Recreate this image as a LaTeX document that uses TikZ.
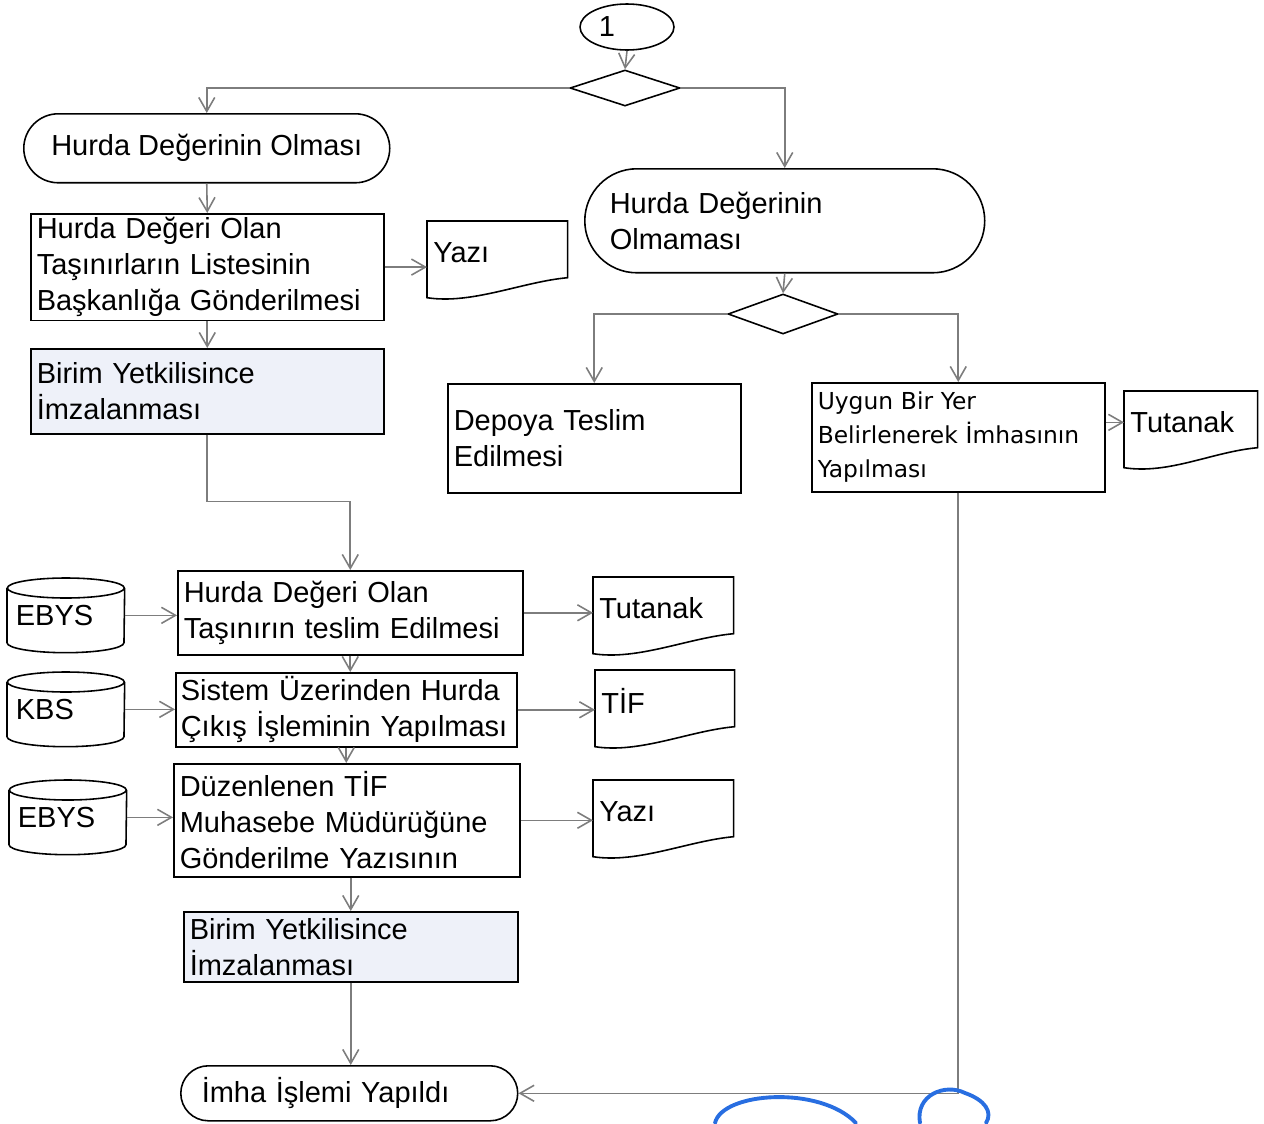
\documentclass[tikz,border=0pt]{standalone}
\usepackage{fontspec}
\setmainfont{Liberation Sans}
\newfontfamily\verdfont{DejaVu Sans}
\usetikzlibrary{arrows.meta,shapes.geometric}
\definecolor{shadefill}{RGB}{238,241,249}
\definecolor{conn}{RGB}{125,125,125}
\definecolor{pen}{RGB}{40,110,225}
% document outline (wavy bottom) around a named node
\newcommand\docout[1]{%
  \draw[outl] (#1.north west) -- ([yshift=-0.28cm]#1.south west)
    .. controls ([xshift=0.9cm,yshift=-0.42cm]#1.south west) and ([xshift=-0.9cm,yshift=0.04cm]#1.south east)
    .. ([yshift=0.12cm]#1.south east) -- (#1.north east) -- cycle;}
% cylinder outline around a named node
\newcommand\cylout[1]{%
  \draw[outl] ([yshift=-0.2cm]#1.north west) -- ([yshift=0.2cm]#1.south west)
    arc[start angle=180,end angle=360,x radius=1.17cm,y radius=0.2cm]
    -- ([yshift=-0.2cm]#1.north east);
  \draw[outl] ([yshift=-0.2cm]#1.north) ellipse [x radius=1.17cm,y radius=0.2cm];}
\begin{document}
\begin{tikzpicture}[x=0.02cm,y=-0.02cm,
  every node/.style={font=\fontsize{16.5}{20.5}\selectfont},
  outl/.style={line width=0.9pt,draw=black},
  box/.style={draw,outl,rectangle,anchor=north west,inner xsep=0.12cm,inner ysep=2pt,align=left},
  shadedbox/.style={box,fill=shadefill},
  term/.style={draw,outl,rectangle,anchor=north west,align=left,inner ysep=0pt},
  docnode/.style={anchor=north west,inner xsep=0.12cm,inner ysep=0pt,align=left,minimum height=1.24cm},
  cylnode/.style={anchor=north west,inner xsep=0.17cm,inner ysep=0pt,text width=2.0cm,align=left,minimum height=1.48cm},
  decision/.style={draw,outl,diamond,inner sep=0pt,minimum width=2.2cm},
  arr/.style={draw=conn,line width=0.9pt,-{Straight Barb[length=0.28cm,width=0.32cm]}},
  penline/.style={draw=pen,line width=2.2pt,line cap=round}]
\useasboundingbox (0,0) rectangle (1264,1123);

% start
\node[draw,outl,ellipse,minimum width=1.88cm,minimum height=0.92cm,inner sep=0pt] (c1) at (627,27) {1\hspace*{0.8cm}};
\node[decision,minimum height=0.72cm] (d1) at (625,88) {};

% left branch
\node[term,rounded corners=0.69cm,minimum width=7.32cm,minimum height=1.38cm,align=center] (n1) at (23,113) {Hurda Değerinin Olması};
\node[box,text width=6.82cm,minimum height=2.06cm] (b1) at (30,213) {Hurda Değeri Olan\\Taşınırların Listesinin\\Başkanlığa Gönderilmesi};
\node[docnode,text width=2.56cm] (y1) at (427,221) {Yazı};
\node[shadedbox,text width=6.82cm,minimum height=1.7cm] (b2) at (30,348) {Birim Yetkilisince\\İmzalanması};

\node[box,text width=6.66cm,minimum height=1.68cm] (b3) at (177,570) {Hurda Değeri Olan\\Taşınırın teslim Edilmesi};
\node[cylnode] (e1) at (7,578) {EBYS};
\node[docnode,text width=2.56cm] (t1) at (593,577) {Tutanak};

\node[box,inner xsep=0.1cm,text width=6.62cm,minimum height=1.48cm] (b4) at (175,672) {Sistem Üzerinden Hurda\\Çıkış İşleminin Yapılması};
\node[cylnode] (e2) at (7,672) {KBS};
\node[docnode,text width=2.54cm] (t2) at (595,670) {TİF};

\node[box,text width=6.68cm,minimum height=2.26cm] (b5) at (173,763) {Düzenlenen TİF\\Muhasebe Müdürüğüne\\Gönderilme Yazısının};
\node[cylnode] (e3) at (9,780) {EBYS};
\node[docnode,text width=2.56cm] (y2) at (593,780) {Yazı};

\node[shadedbox,text width=6.44cm,minimum height=1.4cm] (b6) at (183,911) {Birim Yetkilisince\\İmzalanması};
\node[term,rounded corners=0.55cm,inner xsep=0.42cm,text width=5.9cm,minimum height=1.1cm] (n3) at (180,1065) {İmha İşlemi Yapıldı};

% right branch
\node[term,rounded corners=1.04cm,inner xsep=0.5cm,text width=7cm,minimum height=2.08cm] (n2) at (584,168) {Hurda Değerinin\\Olmaması};
\node[decision,minimum height=0.8cm] (d2) at (783,314) {};
\node[box,text width=5.62cm,minimum height=2.18cm] (dep) at (447,383) {Depoya Teslim\\Edilmesi};
\node[box,text width=5.62cm,minimum height=2.18cm,font=\verdfont\fontsize{13.3}{19.4}\selectfont] (uy) at (811,382) {Uygun Bir Yer\\Belirlenerek İmhasının\\Yapılması};
\node[docnode,text width=2.42cm] (t3) at (1124,391) {Tutanak};

% outlines of documents and databases
\docout{y1}\docout{t1}\docout{t2}\docout{y2}\docout{t3}
\cylout{e1}\cylout{e2}\cylout{e3}

% connectors
\draw[arr] (c1.south) -- (d1.north);
\draw[arr] (d1.west) -| (n1.north);
\draw[arr] (d1.east) -| (n2.north);
\draw[arr] (n1.south) -- (b1.north);
\draw[arr] (b1.east) -- (b1.east -| y1.west);
\draw[arr] (b1.south) -- (b2.north);
\draw[arr] (b2.south) -- ++(0,67) -| (b3.north);
\draw[arr] (e1.east) -- (e1.east -| b3.west);
\draw[arr] (b3.east) -- (b3.east -| t1.west);
\draw[arr] (b3.south) -- (b3.south |- b4.north);
\draw[arr] (e2.east) -- (e2.east -| b4.west);
\draw[arr] (b4.east) -- (b4.east -| t2.west);
\draw[arr] (b4.south) -- (b4.south |- b5.north);
\draw[arr] (e3.east) -- (e3.east -| b5.west);
\draw[arr] (b5.east) -- (b5.east -| y2.west);
\draw[arr] (b6.north |- b5.south) -- (b6.north);
\draw[arr] (b6.south) -- (b6.south |- n3.north);
\draw[arr] (n2.south) -- (d2.north);
\draw[arr] (d2.west) -| (dep.north);
\draw[arr] (d2.east) -| (uy.north);
\draw[arr] (t3.west -| uy.east) -- (t3.west);
\draw[arr] (uy.south) |- (n3.east);

% pen marks
\draw[penline] (715,1123) .. controls (722,1092) and (820,1085) .. (856,1123);
\draw[penline] (920,1123) .. controls (915,1095) and (945,1083) .. (965,1093) .. controls (985,1100) and (993,1112) .. (986,1123);
\end{tikzpicture}
\end{document}
